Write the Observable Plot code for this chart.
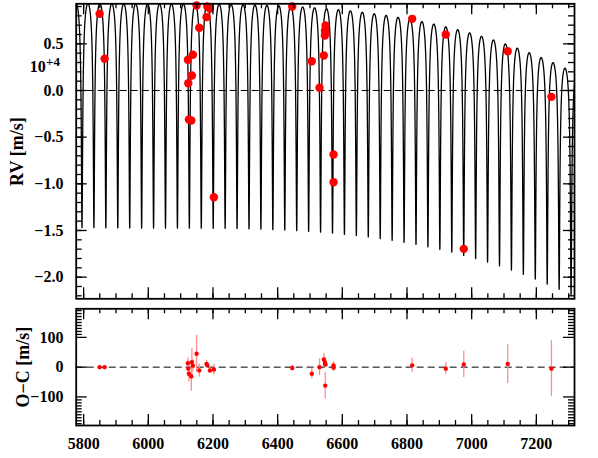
<!DOCTYPE html>
<html><head><meta charset="utf-8">
<script src="https://cdn.jsdelivr.net/npm/d3@7"></script>
<script src="https://cdn.jsdelivr.net/npm/@observablehq/plot@0.6"></script>
<style>
html,body{margin:0;padding:0;background:#fff;}
#chart svg{display:block;}
</style></head><body><div id="chart"></div>
<script>
// ---- data ----
const obsTime = [5849.5, 5864.9, 6122.4, 6123.6, 6125.5, 6132.9, 6134.8, 6137.9, 6149.3, 6157.6, 6180.2, 6182.4, 6190.5, 6202.8, 6445.1, 6505.7, 6529.5, 6542.8, 6546.0, 6546.3, 6547.2, 6548.1, 6572.8, 6572.9, 6816.0, 6920.0, 6975.6, 7111.6, 7246.7];
const obsRV = [0.822, 0.340, 0.329, 0.078, -0.311, -0.322, 0.161, 0.383, 0.911, 0.672, 0.786, 0.900, 0.876, -1.143, 0.900, 0.314, 0.029, 0.375, 0.590, 0.643, 0.620, 0.697, -0.686, -0.983, 0.768, 0.600, -1.697, 0.421, -0.068]; // ×10^4 m/s
const resid = [0, 0, 13, -5, -22, -31, 17, 5, 45, -11, 11, 6, -11, -8, -3, -22, 0, 26, 17, 11, -62, 9, 6, -2, 6, -5, 9, 11, -5]; // m/s
const residErr = [5, 5, 18, 15, 28, 50, 45, 20, 62, 22, 12, 10, 10, 18, 10, 18, 28, 20, 15, 12, 45, 10, 12, 12, 24, 20, 44, 66, 94];
const xTicks = [5800, 6000, 6200, 6400, 6600, 6800, 7000, 7200];
const rvTicks = [0.5, 0.0, -0.5, -1.0, -1.5, -2.0];
const ocTicks = [100, 0, -100];
// Keplerian orbit + long-term trend
const period = 36.89, tPeri = 5831.8, ecc = 0.6, semiAmp = 1.2;
const trendT0 = 5832, trendCoef = [-0.27, -0.0463, 0.209, -0.345];

// ---- model curve ----
const curve = [];
for (let k = -1; k <= 41; k++) {
  const N = 400;
  for (let i = 0; i < N; i++) {
    const E = -Math.PI + 2 * Math.PI * i / N;
    const M = E - ecc * Math.sin(E);
    const t = tPeri + period * (k + M / (2 * Math.PI));
    const nu = 2 * Math.atan2(Math.sqrt(1 + ecc) * Math.sin(E / 2), Math.sqrt(1 - ecc) * Math.cos(E / 2));
    const s = (t - trendT0) / 1000;
    const base = trendCoef[0] + trendCoef[1] * s + trendCoef[2] * s * s + trendCoef[3] * s * s * s;
    curve.push({t, v: base - semiAmp * Math.cos(nu)});
  }
}
const obs = obsTime.map((t, i) => ({t, rv: obsRV[i], res: resid[i], err: residErr[i]}));

const W = 598, ML = 75.7, MR = 24;
const xDomain = [5777, 7318];
const serif = "'Liberation Serif', 'Times New Roman', serif";
const font = {fontFamily: serif, fontWeight: "bold", fontSize: "16px", background: "white"};
const xMinor = d3.range(5800, 7320, 50);

function xTickMarks(frameH) {
  const o = {stroke: "black", strokeWidth: 1.3};
  return [
    Plot.tickX(xMinor, {x: d => d, insetTop: frameH - 5, ...o}),
    Plot.tickX(xMinor, {x: d => d, insetBottom: frameH - 5, ...o}),
    Plot.tickX(xTicks, {x: d => d, insetTop: frameH - 11, ...o}),
    Plot.tickX(xTicks, {x: d => d, insetBottom: frameH - 11, ...o})
  ];
}
function yTickMarks(minor, major) {
  const fw = W - ML - MR;
  const o = {stroke: "black", strokeWidth: 1.3};
  return [
    Plot.tickY(minor, {y: d => d, insetRight: fw - 6, ...o}),
    Plot.tickY(minor, {y: d => d, insetLeft: fw - 6, ...o}),
    Plot.tickY(major, {y: d => d, insetRight: fw - 11, ...o}),
    Plot.tickY(major, {y: d => d, insetLeft: fw - 11, ...o})
  ];
}

// ---- top panel ----
const H1 = 302, MT1 = 3.3, MB1 = 3.7;
const rvMinor = d3.range(-22, 10).map(d => d / 10);
const topPlot = Plot.plot({
  width: W, height: H1, marginLeft: ML, marginRight: MR, marginTop: MT1, marginBottom: MB1,
  style: font,
  x: {domain: xDomain, axis: null},
  y: {domain: [-2.232, 0.929]},
  marks: [
    Plot.ruleY([0], {stroke: "black", strokeWidth: 1, strokeDasharray: "7,4"}),
    Plot.line(curve, {x: "t", y: "v", stroke: "black", strokeWidth: 1.3, clip: true}),
    Plot.dot(obs, {x: "t", y: "rv", r: 4.2, fill: "#ff0000", stroke: "none"}),
    ...xTickMarks(H1 - MT1 - MB1),
    ...yTickMarks(rvMinor, rvTicks),
    Plot.axisY({ticks: rvTicks, tickSize: 0, tickPadding: 12.7, tickFormat: d3.format(".1f"), label: null, fontSize: 16}),
    Plot.text([0], {x: () => xDomain[0], y: () => 0.193, dx: -30.5, text: () => "10", textAnchor: "end", lineAnchor: "bottom", fontSize: 16}),
    Plot.text([0], {x: () => xDomain[0], y: () => 0.258, dx: -30.2, text: () => "+4", textAnchor: "start", lineAnchor: "bottom", fontSize: 13}),
    Plot.text([0], {x: () => xDomain[0], y: () => -0.655, dx: -59, text: () => "RV [m/s]", rotate: -90, fontSize: 18}),
    Plot.frame({stroke: "black", strokeWidth: 1.8})
  ]
});

// ---- bottom panel ----
const H2 = 156, MT2 = 6.3, MB2 = 33;
const ocMinor = [-190, -180, -170, -160, -150, -140, -130, -120, -110, 110, 120, 130, 140, 150, 160, 170, 180, 190];
const bottomPlot = Plot.plot({
  width: W, height: H2, marginLeft: ML, marginRight: MR, marginTop: MT2, marginBottom: MB2,
  style: font,
  x: {domain: xDomain},
  y: {domain: [-196, 196]},
  marks: [
    Plot.ruleY([0], {stroke: "black", strokeWidth: 1, strokeDasharray: "7,4"}),
    Plot.ruleX(obs, {x: "t", y1: d => d.res - d.err, y2: d => d.res + d.err, stroke: "#ff8c8c", strokeWidth: 1.3}),
    Plot.dot(obs, {x: "t", y: "res", r: 2.2, fill: "#ff0000", stroke: "none"}),
    ...xTickMarks(H2 - MT2 - MB2),
    ...yTickMarks(ocMinor, ocTicks),
    Plot.axisY({ticks: ocTicks, tickSize: 0, tickPadding: 12.7, tickFormat: d3.format("d"), label: null, fontSize: 16}),
    Plot.axisX({ticks: xTicks, tickSize: 0, tickPadding: 12, tickFormat: d => String(d), label: null, fontSize: 16}),
    Plot.text([0], {x: () => xDomain[0], y: () => 0, dx: -53, text: () => "O\u2212C [m/s]", rotate: -90, fontSize: 18}),
    Plot.frame({stroke: "black", strokeWidth: 1.8})
  ]
});

document.getElementById("chart").append(topPlot, bottomPlot);
</script></body></html>
